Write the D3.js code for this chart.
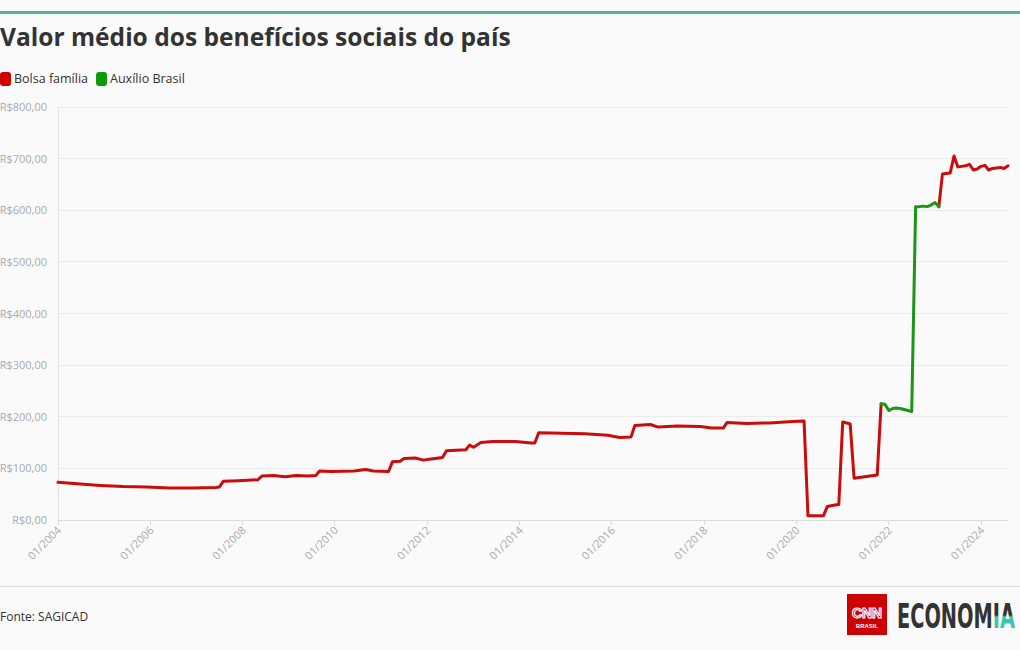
<!DOCTYPE html>
<html>
<head>
<meta charset="utf-8">
<script src="https://cdn.jsdelivr.net/npm/d3@7"></script>
<style>
  html, body { margin: 0; padding: 0; background: #fafafa; }
  svg { display: block; }
</style>
</head>
<body>
<svg id="chart" width="1020" height="650"></svg>
<script>
// ---- data ----
const title = "Valor médio dos benefícios sociais do país";
const seriesNames = ["Bolsa família", "Auxílio Brasil"];
const seriesColors = ["#c90c0c", "#1c9616"];
const legendColors = ["#d00000", "#0a9a0a"];
const source = "Fonte: SAGICAD";

const bolsaDates = ["2004-01","2004-06","2004-12","2005-06","2005-12","2006-06","2006-12","2007-06","2007-07","2007-08","2007-12","2008-05","2008-06","2008-09","2008-12","2009-03","2009-06","2009-08","2009-09","2009-12","2010-06","2010-09","2010-11","2011-03","2011-04","2011-06","2011-07","2011-10","2011-12","2012-02","2012-05","2012-06","2012-11","2012-12","2013-01","2013-03","2013-06","2013-12","2014-04","2014-05","2014-06","2014-12","2015-06","2015-12","2016-03","2016-06","2016-07","2016-11","2017-01","2017-06","2017-12","2018-03","2018-06","2018-07","2018-12","2019-06","2019-12","2020-03","2020-04","2020-08","2020-09","2020-11","2020-12","2021-01","2021-03","2021-04","2021-10","2021-11",
  null,
  "2023-02","2023-03","2023-04","2023-05","2023-06","2023-07","2023-08","2023-09","2023-10","2023-11","2023-12","2024-01","2024-02","2024-03","2024-04","2024-05","2024-06","2024-07","2024-08"];
const bolsaValues = [73,70,67,65,64,62,62,63,64,75,76,78,85,86,84,86,85,86,95,94,95,98,95,94,113,114,119,120,116,118,121,134,136,145,141,150,152,152,149,149,169,168,167,164,160,161,183,185,180,182,181,178,178,189,187,188,191,192,8,8,26,29,30,190,186,81,87,225,
  null,
  607,670,671,672,705,684,685,686,689,678,680,685,687,678,681,682,683,681,686];

const auxilioDates = ["2021-11","2021-12","2022-01","2022-02","2022-03","2022-04","2022-05","2022-06","2022-07","2022-08","2022-09","2022-10","2022-11","2022-12","2023-01","2023-02"];
const auxilioValues = [225,224,212,216,217,216,214,212,210,607,607,608,607,610,615,607];

const yTicks = [0,100,200,300,400,500,600,700,800];
const xTickYears = [2004,2006,2008,2010,2012,2014,2016,2018,2020,2022,2024];

// ---- drawing ----
const parse = d3.timeParse("%Y-%m");
const svg = d3.select("#chart");
const W = 1020, H = 650;
const font = "'Open Sans', sans-serif";
const defs = svg.append("defs");

svg.append("rect").attr("width", W).attr("height", H).attr("fill", "#fafafa");
svg.append("rect").attr("x", 0).attr("y", 11).attr("width", W).attr("height", 3).attr("fill", "#48b79c");

// title, fitted
const t = svg.append("text").attr("x", 0).attr("y", 46)
  .attr("font-family", "'Open Sans', sans-serif").attr("font-weight", 700)
  .attr("font-size", 26).attr("fill", "#333").text(title);
(function fit(sel, target) {
  const w = sel.node().getComputedTextLength();
  const fs = 26 * target / w;
  sel.attr("font-size", Math.min(fs, 30));
  const w2 = sel.node().getComputedTextLength();
  if (Math.abs(w2 - target) > 2) sel.attr("textLength", target).attr("lengthAdjust", "spacingAndGlyphs");
})(t, 511);

// legend
const legend = svg.append("g");
let lx = 0;
seriesNames.forEach((name, i) => {
  legend.append("rect").attr("x", lx).attr("y", 72).attr("width", 11).attr("height", 14)
    .attr("rx", 3).attr("fill", legendColors[i]);
  const tx = legend.append("text").attr("x", lx + 14).attr("y", 83)
    .attr("font-family", font).attr("font-size", 12.5).attr("fill", "#333").text(name);
  lx += 14 + tx.node().getComputedTextLength() + 8;
});

const x = d3.scaleTime().domain([parse("2004-01"), parse("2024-08")]).range([58, 1008]);
const y = d3.scaleLinear().domain([0, 800]).range([520, 107]);

// gridlines
svg.append("g").selectAll("line").data(yTicks).join("line")
  .attr("x1", 58).attr("x2", 1008)
  .attr("y1", d => y(d)).attr("y2", d => y(d))
  .attr("stroke", d => d === 0 ? "#dcdcdc" : "#ebebeb").attr("stroke-width", 1)
  .attr("shape-rendering", "crispEdges");

// y axis line
svg.append("line").attr("x1", 58).attr("x2", 58).attr("y1", y(800)).attr("y2", y(0))
  .attr("stroke", "#e3e3e3").attr("shape-rendering", "crispEdges");

// y labels
const fmt = v => "R$" + d3.format(",.2f")(v).replace(/,/g, "#").replace(".", ",").replace(/#/g, ".");
svg.append("g").selectAll("text").data(yTicks).join("text")
  .attr("x", 47).attr("y", d => y(d) + 4)
  .attr("text-anchor", "end").attr("font-family", font).attr("font-size", 11)
  .attr("fill", "#aaaaaa").text(d => fmt(d));

// x ticks and labels
const xTicks = xTickYears.map(yr => new Date(yr, 0, 1));
svg.append("g").selectAll("line").data(xTicks).join("line")
  .attr("x1", d => x(d)).attr("x2", d => x(d)).attr("y1", 520).attr("y2", 525)
  .attr("stroke", "#dcdcdc").attr("shape-rendering", "crispEdges");
svg.append("g").selectAll("text").data(xTicks).join("text")
  .attr("transform", d => `translate(${x(d) + 4},${531}) rotate(-45)`)
  .attr("text-anchor", "end").attr("font-family", font).attr("font-size", 11)
  .attr("fill", "#aaaaaa").text(d => d3.timeFormat("%m/%Y")(d));

// lines
const line = d3.line()
  .defined(d => d.date !== null && d.value !== null)
  .x(d => x(d.date)).y(d => y(d.value));
const bolsa = bolsaDates.map((d, i) => ({ date: d ? parse(d) : null, value: bolsaValues[i] }));
const aux = auxilioDates.map((d, i) => ({ date: parse(d), value: auxilioValues[i] }));
[bolsa, aux].forEach((data, i) => {
  svg.append("path").datum(data).attr("d", line)
    .attr("fill", "none").attr("stroke", seriesColors[i]).attr("stroke-width", 3)
    .attr("stroke-linejoin", "round").attr("stroke-linecap", "round");
});

// footer
svg.append("line").attr("x1", 0).attr("x2", W).attr("y1", 586.5).attr("y2", 586.5)
  .attr("stroke", "#dddddd");
svg.append("text").attr("x", 0).attr("y", 621).attr("font-family", font)
  .attr("font-size", 12).attr("fill", "#333").text(source);

// logo
const logo = svg.append("g");
logo.append("rect").attr("x", 847).attr("y", 594).attr("width", 40).attr("height", 41).attr("fill", "#cc0000");
logo.append("text").attr("x", 867).attr("y", 618).attr("text-anchor", "middle")
  .attr("font-family", "'Liberation Sans', sans-serif").attr("font-weight", 700)
  .attr("font-size", 15).attr("fill", "none").attr("stroke", "#fff").attr("stroke-width", 1.2)
  .attr("textLength", 30).attr("lengthAdjust", "spacingAndGlyphs").text("CNN");
logo.append("text").attr("x", 867).attr("y", 628).attr("text-anchor", "middle")
  .attr("font-family", "'Liberation Sans', sans-serif").attr("font-weight", 700)
  .attr("font-size", 6).attr("fill", "#fff").text("BRASIL");

const ecoG = logo.append("g");
const eco = ecoG.append("text").attr("x", 0).attr("y", 0)
  .attr("font-family", "'DejaVu Sans Condensed', 'DejaVu Sans', sans-serif").attr("font-weight", 700)
  .attr("font-size", 20).text("ECONOMIA");
const ew = eco.node().getComputedTextLength();
const iaX = eco.node().getStartPositionOfChar(6).x;
const capH = 20 * 0.73;
const sx = 118 / ew, sy = 24 / capH;
ecoG.attr("transform", `translate(897,628) scale(${sx},${sy})`);
const pat = defs.append("pattern").attr("id", "ecoFill").attr("patternUnits", "userSpaceOnUse")
  .attr("x", -10).attr("y", -30).attr("width", ew + 40).attr("height", 50);
pat.append("rect").attr("x", 0).attr("y", 0).attr("width", ew + 40).attr("height", 50).attr("fill", "#333");
pat.append("rect").attr("x", iaX + 10).attr("y", 30 - capH * 0.5).attr("width", 60).attr("height", 30).attr("fill", "#3cc8b0");
eco.attr("fill", "url(#ecoFill)");
</script>
</body>
</html>
